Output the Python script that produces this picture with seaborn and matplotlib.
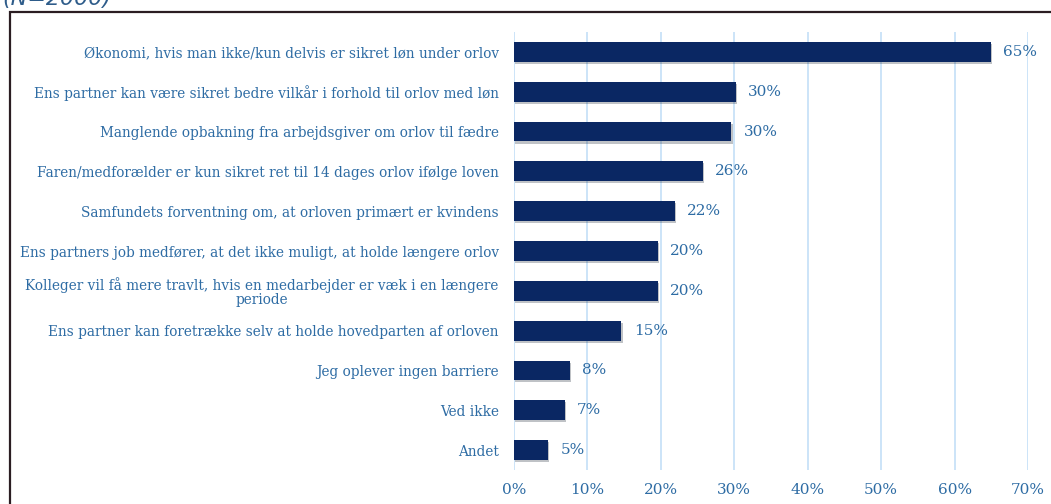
import matplotlib
matplotlib.use("Agg")
import matplotlib.pyplot as plt
import matplotlib.patheffects as pe
from matplotlib.patches import Rectangle
import seaborn as sns
import pandas as pd

# barrierer for at holde laengere orlov
categories = [
    "Økonomi, hvis man ikke/kun delvis er sikret løn under orlov",
    "Ens partner kan være sikret bedre vilkår i forhold til orlov med løn",
    "Manglende opbakning fra arbejdsgiver om orlov til fædre",
    "Faren/medforælder er kun sikret ret til 14 dages orlov ifølge loven",
    "Samfundets forventning om, at orloven primært er kvindens",
    "Ens partners job medfører, at det ikke muligt, at holde længere orlov",
    "Kolleger vil få mere travlt, hvis en medarbejder er væk i en længere\nperiode",
    "Ens partner kan foretrække selv at holde hovedparten af orloven",
    "Jeg oplever ingen barriere",
    "Ved ikke",
    "Andet",
]
values = [64.9, 30.2, 29.6, 25.7, 21.9, 19.6, 19.6, 14.6, 7.6, 6.9, 4.6]
xticks = [0, 10, 20, 30, 40, 50, 60, 70]

df = pd.DataFrame({"barriere": categories, "pct": values})

text_col = "#2e6ca4"
bar_col = "#0a2763"

sns.set_style("white")
plt.rcParams["font.family"] = ["DejaVu Serif"]

fig = plt.figure(figsize=(10.51, 5.04), dpi=100)
ax = fig.add_axes([514 / 1051, 1 - 470 / 504, 514 / 1051, 438 / 504])

sns.barplot(data=df, y="barriere", x="pct", orient="h", color=bar_col,
            width=0.5, saturation=1, ax=ax, zorder=3)
for p in ax.patches:
    p.set_linewidth(0)
    p.set_path_effects([pe.SimplePatchShadow(offset=(1, -1.5), alpha=0.25),
                        pe.Normal()])

ax.bar_label(ax.containers[0], labels=[f"{round(v)}%" for v in values],
             padding=9, color=text_col, fontsize=11)

ax.set_xlim(0, 70)
ax.set_ylim(10.5, -0.5)
ax.set_xticks(xticks)
ax.set_xticklabels([f"{t}%" for t in xticks], color=text_col, fontsize=11)
ax.xaxis.grid(True, color="#c8e2f8", linewidth=1.3, zorder=0)
ax.set_axisbelow(True)
ax.tick_params(axis="y", length=0, pad=11, labelsize=9.8, labelcolor=text_col)
ax.tick_params(axis="x", length=0, pad=9)
for lab in ax.get_yticklabels():
    lab.set_multialignment("center")
    lab.set_linespacing(1.0)
for s in ax.spines.values():
    s.set_visible(False)
ax.set_xlabel("")
ax.set_ylabel("")

# ramme og undertitel (beskaaret i skaermbilledet)
fig.patches.append(Rectangle((10 / 1051, -0.1), 1.2, 1.1 - 12 / 504,
                             transform=fig.transFigure, fill=False,
                             edgecolor="#2b1d22", linewidth=1.6))
fig.text(2 / 1051, 1 + 1 / 504, "(N=2000)", fontsize=16, style="italic",
         color="#2e5c8a", va="center", ha="left", family="DejaVu Sans")

fig.savefig("out.png", dpi=100)
